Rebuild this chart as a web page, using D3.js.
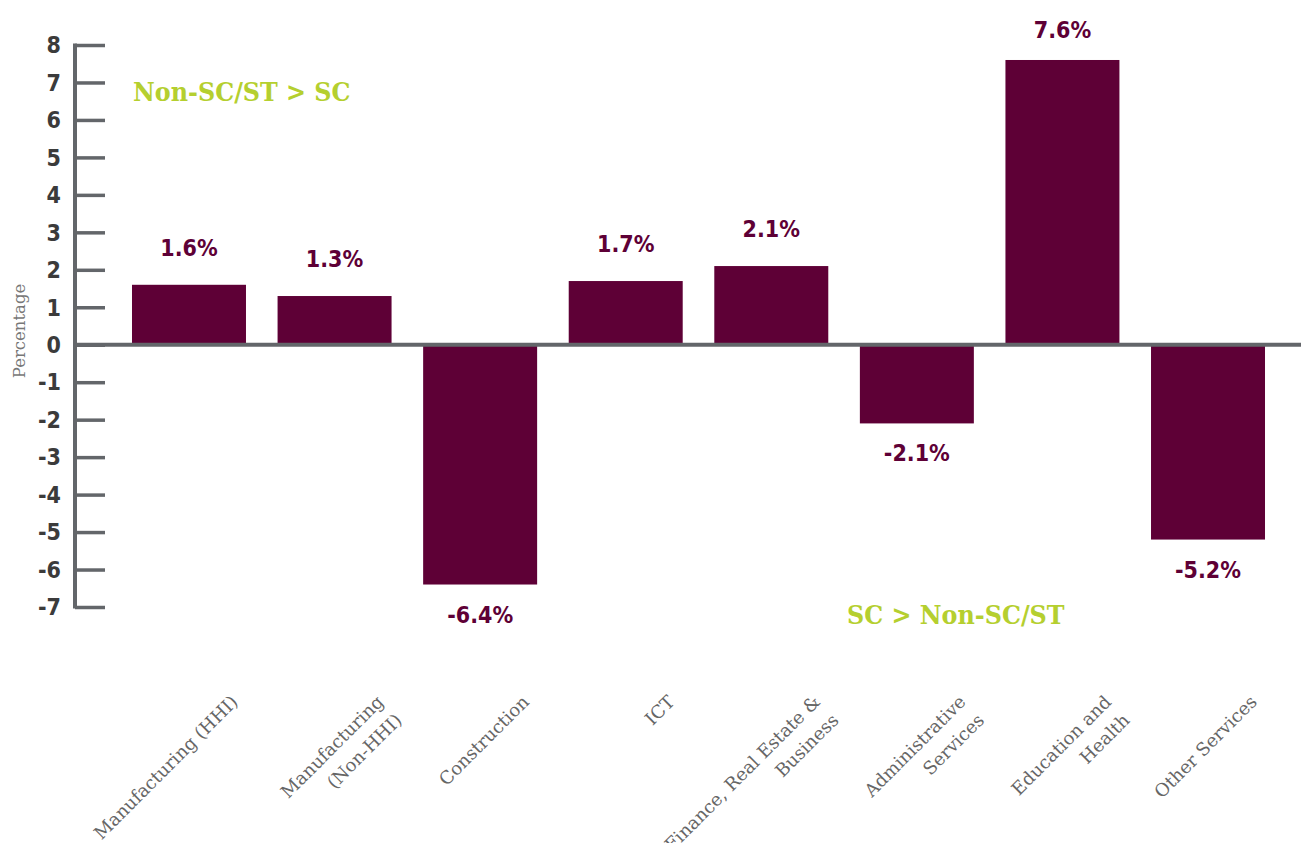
<!DOCTYPE html>
<html>
<head>
<meta charset="utf-8">
<script src="https://cdn.jsdelivr.net/npm/d3@7"></script>
<style>
  body { margin: 0; background: #fff; }
  .tick-label { font-family: "DejaVu Sans Condensed", "DejaVu Sans", sans-serif; font-weight: bold; font-size: 23px; fill: #3b3b3b; }
  .value { font-family: "DejaVu Sans Condensed", "DejaVu Sans", sans-serif; font-weight: bold; font-size: 23px; fill: #5e0036; }
  .cat { font-family: "DejaVu Serif", serif; font-size: 18px; fill: #666; }
  .ytitle { font-family: "DejaVu Serif", serif; font-size: 16.5px; fill: #777; }
  .note { font-family: "DejaVu Serif Condensed", "DejaVu Serif", serif; font-weight: bold; font-size: 26.5px; fill: #b5cf2f; }
</style>
</head>
<body>
<svg width="1301" height="843"></svg>
<script>
// data
var categories = ["Manufacturing (HHI)", "Manufacturing (Non-HHI)", "Construction", "ICT",
                  "Finance, Real Estate & Business", "Administrative Services", "Education and Health", "Other Services"];
// regels van de as-labels
var categoryLines = [["Manufacturing (HHI)"], ["Manufacturing", "(Non-HHI)"], ["Construction"], ["ICT"],
                     ["Finance, Real Estate &", "Business"], ["Administrative", "Services"], ["Education and", "Health"], ["Other Services"]];
var values = [1.6, 1.3, -6.4, 1.7, 2.1, -2.1, 7.6, -5.2];
var yTicks = [8, 7, 6, 5, 4, 3, 2, 1, 0, -1, -2, -3, -4, -5, -6, -7];

var svg = d3.select("svg");
var axisColor = "#63666a";

var x = d3.scaleBand()
    .domain(categories)
    .range([116.2, 1280.8])
    .paddingInner(0.217)
    .paddingOuter(0.1085);

var y = d3.scaleLinear().domain([-7, 8]).range([607, 45]);

// balken
svg.selectAll(".bar")
    .data(values)
    .enter().append("rect")
    .attr("class", "bar")
    .attr("x", function(d, i) { return x(categories[i]); })
    .attr("width", x.bandwidth())
    .attr("y", function(d) { return y(Math.max(0, d)); })
    .attr("height", function(d) { return Math.abs(y(d) - y(0)); })
    .attr("fill", "#5e0036");

// y-as
var yAxis = svg.append("g")
    .attr("transform", "translate(75,0)")
    .call(d3.axisRight(y).tickValues(yTicks).tickSize(30).tickFormat(""));
yAxis.select(".domain").remove();
yAxis.selectAll(".tick line").attr("stroke", axisColor).attr("stroke-width", 3.5);

svg.append("line")
    .attr("x1", 75).attr("x2", 75)
    .attr("y1", y(8) - 1.5).attr("y2", y(-7) + 1.5)
    .attr("stroke", axisColor).attr("stroke-width", 4);

svg.selectAll(".tick-label")
    .data(yTicks)
    .enter().append("text")
    .attr("class", "tick-label")
    .attr("x", 61)
    .attr("y", function(d) { return y(d); })
    .attr("dy", "0.36em")
    .attr("text-anchor", "end")
    .text(function(d) { return d; });

// nul-lijn
svg.append("line")
    .attr("x1", 75).attr("x2", 1301)
    .attr("y1", y(0)).attr("y2", y(0))
    .attr("stroke", axisColor).attr("stroke-width", 4);

// waarde labels
svg.selectAll(".value")
    .data(values)
    .enter().append("text")
    .attr("class", "value")
    .attr("x", function(d, i) { return x(categories[i]) + x.bandwidth() / 2; })
    .attr("y", function(d) { return d >= 0 ? Math.max(y(d) - 29, 38) : y(d) + 38; })
    .attr("text-anchor", "middle")
    .text(function(d) { return d.toFixed(1) + "%"; });

// as-labels, gedraaid
var cat = svg.selectAll(".cat")
    .data(categoryLines)
    .enter().append("text")
    .attr("class", "cat")
    .attr("text-anchor", "end")
    .attr("transform", function(d, i) {
        return "translate(" + (x(categories[i]) + x.bandwidth() / 2 + 50) + ",703) rotate(-45)";
    });
cat.selectAll("tspan")
    .data(function(d) { return d; })
    .enter().append("tspan")
    .attr("x", 0)
    .attr("dy", function(d, i) { return i === 0 ? 0 : 26; })
    .text(function(d) { return d; });

// y-as titel
svg.append("text")
    .attr("class", "ytitle")
    .attr("transform", "translate(25,331) rotate(-90)")
    .attr("text-anchor", "middle")
    .text("Percentage");

// annotaties
svg.append("text").attr("class", "note").attr("x", 133).attr("y", 101).text("Non-SC/ST > SC");
svg.append("text").attr("class", "note").attr("x", 847).attr("y", 624).text("SC > Non-SC/ST");
</script>
</body>
</html>
